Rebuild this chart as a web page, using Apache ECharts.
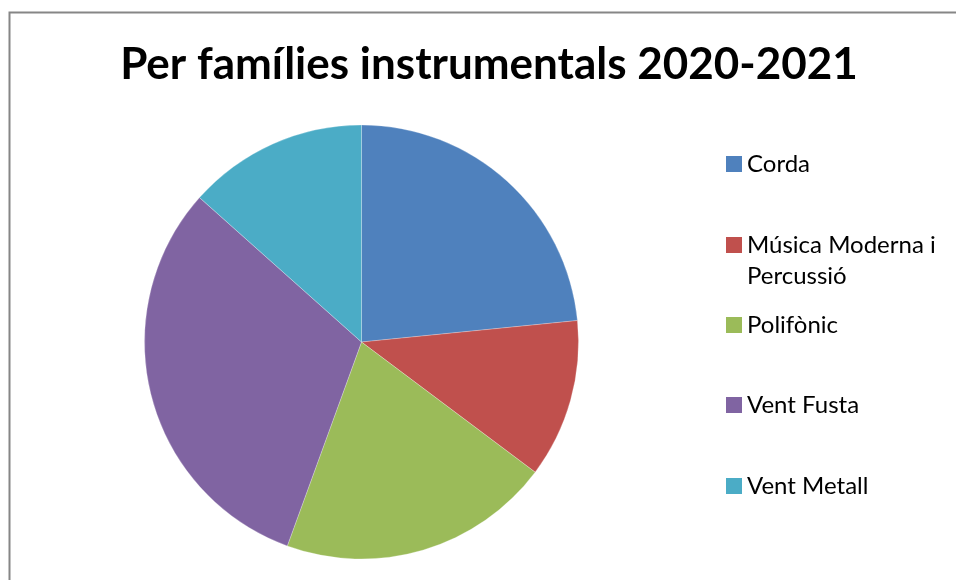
<!DOCTYPE html>
<html>
<head>
<meta charset="utf-8">
<script src="https://cdn.jsdelivr.net/npm/echarts@6/dist/echarts.min.js"></script>
<style>
html,body{margin:0;padding:0;background:#fff;}
#chart{width:956px;height:580px;}
</style>
</head>
<body>
<div id="chart"></div>
<script>
const titleText = 'Per famílies instrumentals 2020-2021';
const categories = ['Corda', 'Música Moderna i Percussió', 'Polifònic', 'Vent Fusta', 'Vent Metall'];
const legendLabels = ['Corda', 'Música Moderna i\nPercussió', 'Polifònic', 'Vent Fusta', 'Vent Metall'];
const values = [23.4, 11.8, 20.3, 31.0, 13.4];
const colors = ['#4F81BD', '#C0504D', '#9BBB59', '#8064A2', '#4BACC6'];

const FONT = 'Lato';
const LH = 31;
const legendCenters = [164, 245, 325, 405, 486];

const chart = echarts.init(document.getElementById('chart'), null, {renderer: 'canvas'});

const legends = categories.map((name, i) => {
  const lines = legendLabels[i].split('\n');
  // pad with blank lines above so the first line sits level with the marker
  const pad = lines.length - 1;
  const label = Array(pad).fill('\u00a0').concat(lines).join('\n');
  const boxH = (lines.length + pad) * LH;
  return {
    orient: 'vertical',
    left: 726,
    top: legendCenters[i] - boxH / 2,
    padding: 0,
    itemWidth: 16,
    itemHeight: 16,
    itemGap: 0,
    icon: 'rect',
    selectedMode: false,
    data: [name],
    formatter: () => label,
    textStyle: {
      fontFamily: FONT,
      fontSize: 24,
      color: '#000',
      lineHeight: LH
    },
    itemStyle: {borderWidth: 0}
  };
});

chart.setOption({
  animation: false,
  color: colors,
  title: {
    text: titleText,
    left: 489,
    textAlign: 'center',
    top: 43,
    padding: 0,
    textStyle: {fontFamily: FONT, fontWeight: 'bold', fontSize: 44, color: '#000'}
  },
  graphic: [{
    type: 'rect',
    silent: true,
    z: -10,
    shape: {x: 9.5, y: 12.5, width: 1000, height: 1000},
    style: {fill: 'none', stroke: '#868686', lineWidth: 2}
  }],
  legend: legends,
  series: [{
    type: 'pie',
    center: [361.5, 342],
    radius: 217,
    startAngle: 90,
    clockwise: true,
    label: {show: false},
    labelLine: {show: false},
    emphasis: {disabled: true},
    itemStyle: {borderColor: 'rgba(255,255,255,0.5)', borderWidth: 0.5},
    data: categories.map((c, i) => ({name: c, value: values[i]}))
  }]
});
</script>
</body>
</html>
